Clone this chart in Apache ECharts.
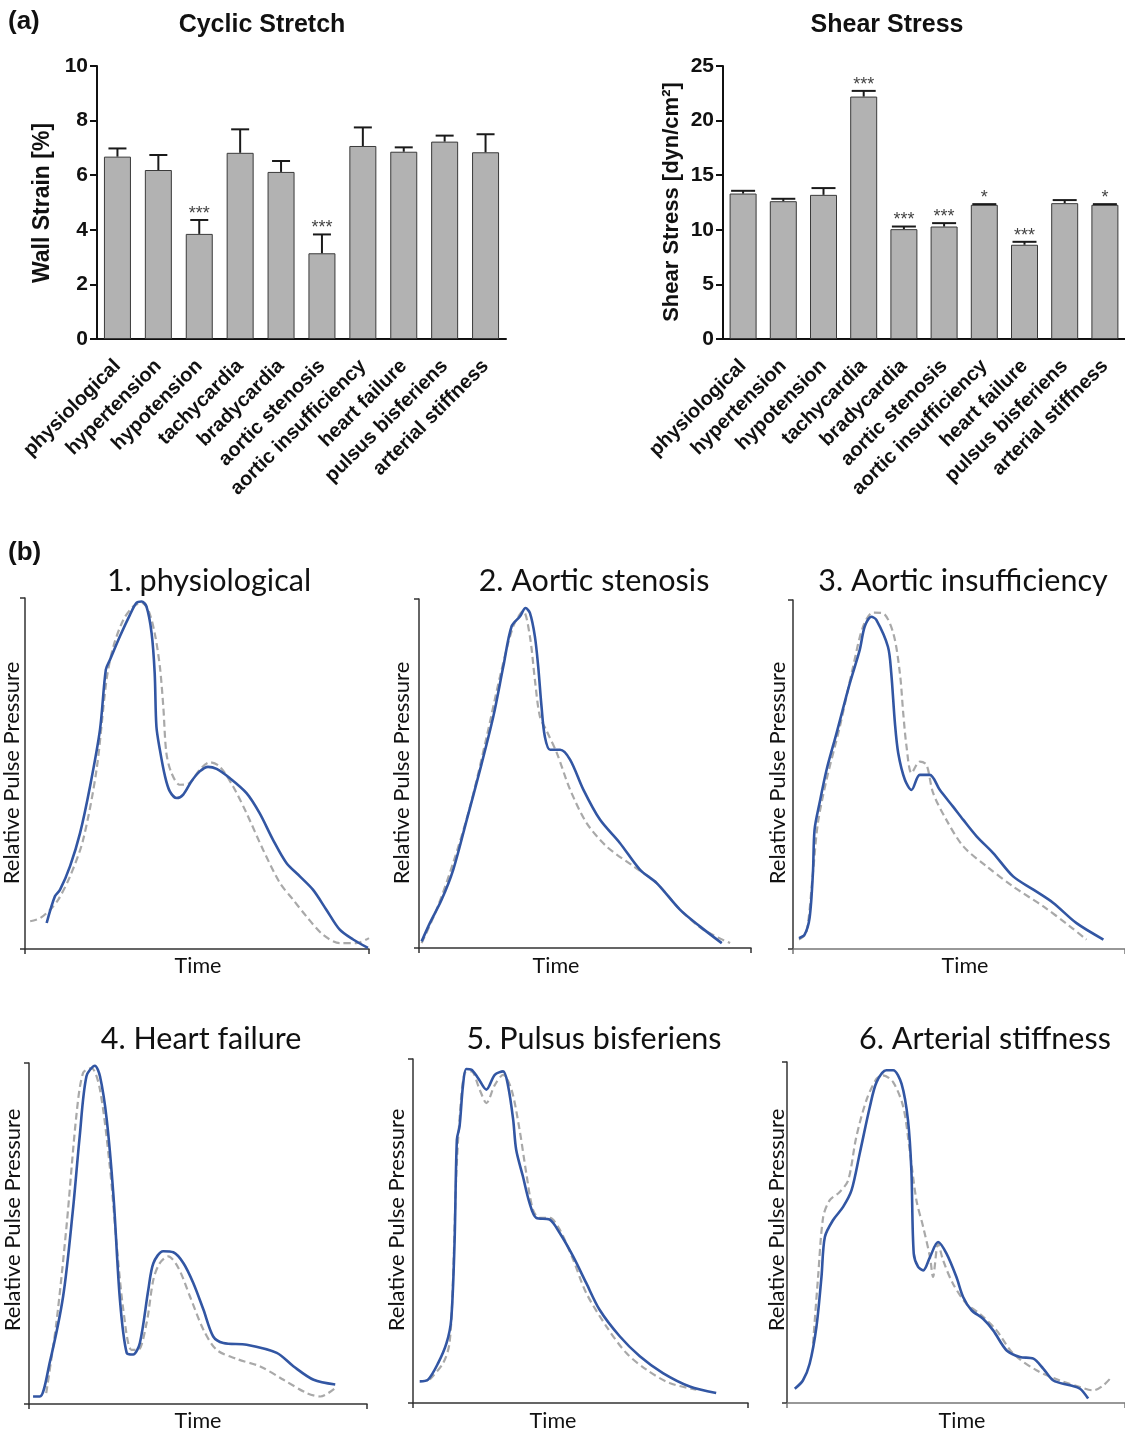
<!DOCTYPE html>
<html><head><meta charset="utf-8">
<script src="https://cdn.jsdelivr.net/npm/echarts@6/dist/echarts.min.js"></script>
<style>html,body{margin:0;padding:0;background:#fff}#c{width:1125px;height:1433px}</style>
</head><body><div id="c"></div>
<script>
// ---------- data ----------
const categories = ['physiological','hypertension','hypotension','tachycardia','bradycardia','aortic stenosis','aortic insufficiency','heart failure','pulsus bisferiens','arterial stiffness'];
const strainMean = [6.68, 6.19, 3.85, 6.82, 6.12, 3.14, 7.07, 6.86, 7.23, 6.84];
const strainUpper = [6.98, 6.74, 4.36, 7.68, 6.52, 3.83, 7.75, 7.02, 7.45, 7.50];
const strainSig = ['', '', '***', '', '', '***', '', '', '', ''];
const shearMean = [13.32, 12.62, 13.20, 22.20, 10.06, 10.30, 12.29, 8.63, 12.44, 12.29];
const shearUpper = [13.57, 12.84, 13.82, 22.72, 10.30, 10.61, 12.35, 8.90, 12.72, 12.35];
const shearSig = ['', '', '', '***', '***', '***', '*', '***', '', '*'];
const strainTicks = [0, 10, 2];
const shearTicks = [0, 25, 5];

const panelTitles = ['1. physiological','2. Aortic stenosis','3. Aortic insufficiency','4. Heart failure','5. Pulsus bisferiens','6. Arterial stiffness'];

const p1Blue = [[6.3,7.4],[8.7,15],[10.2,16.9],[13.1,23.6],[16,33],[18.9,46.3],[21.8,62.5],[23.5,79.6],[24.7,82.4],[27.6,89.1],[30.5,95.2],[32.4,98.6],[33.9,99],[35.3,97.6],[36.8,90],[37.7,78.6],[38.2,63.4],[39.2,56.8],[40.7,49.2],[42.1,44.9],[44.1,43],[46,44],[48.4,47.8],[50.8,50.6],[53.2,51.9],[55.7,51.3],[59.5,48.7],[64.4,44.4],[68.2,38.7],[72.1,31.1],[76,24.5],[79.9,20.7],[83.7,16.9],[87.6,11.2],[91.5,5.5],[95.4,2.7],[99.7,0.3]];
const p1Gray = [[1.5,7.9],[4.4,8.8],[7.3,11.2],[9.7,14.1],[13.1,20.7],[16.9,31.1],[20.8,51.1],[23.7,76.7],[25.7,86.2],[28.6,93.8],[31.5,97.6],[33.9,98.6],[35.8,96.7],[37.7,90],[39.2,80.5],[40.2,69.1],[41.1,55.8],[42.6,50.1],[45,46.8],[47.9,47.3],[50.8,51.1],[53.7,53.2],[56.6,52],[60.5,46.3],[64.4,38.7],[69.2,28.3],[74.1,18.8],[77.9,14.1],[81.8,9.3],[86.6,4.1],[91.5,1.7],[96.3,1.7],[100,3.1]];
const p2Blue = [[0.8,1.9],[3.3,7.2],[6.8,13.8],[10.3,22.4],[14.4,36.8],[18.4,51.1],[22.4,66.4],[25.4,80.7],[27.9,92.2],[30.4,95],[32.1,97.4],[33.4,96],[34.9,89.3],[35.9,80.7],[36.9,69.2],[37.9,60.6],[39.5,56.8],[42.5,56.8],[45.5,54],[49.5,45.4],[54.5,36.8],[60.5,30.1],[66.6,22.4],[71.6,18.6],[78.6,11],[84.6,6.2],[91.2,1.4]];
const p2Gray = [[0.8,1.4],[5.3,11],[10.3,24.4],[15.4,40.6],[20.4,60.6],[24.4,77.8],[28.4,92.2],[31.4,96.5],[33.4,89.3],[34.9,76.9],[36.4,66.4],[38.5,62.1],[41.5,55.9],[45.5,45.4],[50.5,35.8],[56.5,29.1],[64.6,23.4],[71.6,18.6],[78.6,11],[85.6,5.3],[93.7,1.4]];
const p3Blue = [[1.8,3.1],[3.5,4.1],[5,8.9],[6,21.8],[6.5,34.2],[8,41.8],[10.1,51.3],[13.1,61.8],[17.1,76.1],[20.1,85.7],[21.6,92.4],[23.6,95.2],[25.1,94.3],[28.6,86.6],[29.6,79],[30.7,64.7],[31.7,56.1],[33.7,48.5],[35.7,45.6],[38.2,49.9],[41.2,49.9],[44.2,45.6],[48.2,40.8],[51.3,37],[55.3,32.3],[60.3,27.5],[66.3,20.8],[72.4,17],[78.4,13.2],[85.4,7.4],[93.5,2.7]];
const p3Gray = [[1.8,2.7],[4,4.6],[6,21.8],[7.5,36.1],[10.1,48.5],[14.1,63.7],[18.1,80.9],[21.1,92.4],[24.1,96.4],[27.1,96.2],[30.2,90.5],[32.2,79],[33.2,67.6],[34.2,58],[35.7,50.4],[38.2,53.7],[40.2,52.8],[42.2,44.7],[46.2,37],[51.3,29.4],[58.3,23.7],[66.3,17.9],[75.4,12.2],[83.4,6.5],[88.4,2.7]];
const p4Blue = [[1.2,2.2],[3.2,2.2],[6.1,12],[10.1,31.6],[13,57],[15,78.5],[17,96.1],[19.5,99.2],[21,96.1],[23,83.4],[25,60.9],[26.9,30.6],[28.9,15],[30.8,14.5],[32.8,17.9],[35.3,33.5],[36.8,41.3],[39.7,44.8],[42.7,44.5],[45.7,41.3],[48.6,35.5],[51.6,27.7],[54.5,19.8],[57.5,17.9],[64.4,17.4],[73.3,15],[78.3,11],[84.2,7.1],[90.6,5.7]];
const p4Gray = [[5.1,3.2],[8.1,23.8],[11.1,52.1],[14,84.4],[16,97.1],[18.5,98.5],[21,92.2],[23.9,69.7],[25.9,47.2],[27.9,27.7],[30.3,15.9],[32.3,15.9],[34.8,23.8],[36.8,36.5],[38.7,41.3],[41.2,43.3],[44.2,39.9],[47.6,31.6],[51.6,21.8],[55.5,15.9],[61.5,13.2],[68.4,11],[75.3,7.1],[82.2,3.2],[86.2,2.2],[90.6,4.7]];
const p5Blue = [[2,6.3],[4.5,6.8],[7.5,11.6],[10,17.4],[11.4,24.2],[12.4,46.5],[13.1,76.6],[13.9,80.4],[14.9,92.1],[15.9,97.1],[17.4,96.9],[19.4,94.5],[21.9,91.1],[24.4,95.4],[26.9,96.4],[28.4,92.1],[29.9,82.4],[30.8,73.6],[32.8,65.9],[34.8,58.1],[36.8,53.8],[40.8,53.3],[43.8,49.4],[47.8,42.6],[51.7,34.9],[55.7,27.1],[61.7,19.4],[67.7,13.6],[74.6,8.7],[82.6,4.8],[90.5,2.9]];
const p5Gray = [[5,6.8],[9,11.6],[10.9,17.4],[11.9,34.9],[12.9,65.9],[13.9,82.6],[15.4,95.9],[17.4,96.4],[19.9,91.1],[21.9,87.2],[24.4,92.4],[26.9,95.4],[29.4,91.1],[31.8,79.5],[33.8,66.9],[35.8,56.2],[37.8,53.8],[40.8,53.8],[43.8,50.4],[47.8,41.7],[51.7,32],[57.7,22.3],[63.7,14.5],[69.7,9.7],[76.6,5.8],[84.6,3.9]];
const p6Blue = [[2.3,4.2],[4.7,6.6],[6.7,11.5],[8.7,22.3],[10.2,37],[11.2,48.7],[13.6,53.6],[16.6,57.5],[19.1,62.4],[21.5,73.1],[24.5,86.8],[26.5,94.1],[29.4,97.6],[31.4,97.6],[33.9,93.6],[35.8,82.9],[36.8,68.2],[37.5,43.8],[38.8,39.9],[40.3,38.9],[42.3,42.8],[44.7,47.2],[47.2,43.8],[50.1,37],[52.1,31.1],[54.6,27.2],[58,24.7],[61,21.3],[65,15.4],[68.9,13.5],[72.9,13],[75.8,10.1],[78.8,6.6],[83.7,5.2],[86.7,4.2],[89.1,1.3]];
const p6Gray = [[7.7,17.4],[9.2,37],[10.7,54.5],[12.6,59.4],[15.6,61.9],[18.1,65.3],[20.5,78],[23.5,88.8],[26.5,95.1],[28.4,96.1],[31.4,94.1],[34.4,86.8],[36.3,74.1],[38.3,59.4],[40.3,51.6],[42.3,42.8],[43.2,37],[44.7,46.7],[46.2,41.8],[49.1,35],[53.1,29.1],[57.1,26.1],[62,21.3],[66.9,14.5],[73.8,9.6],[80.8,6.6],[86.7,4.7],[90.6,3.7],[93.6,5.2],[96,7.6]];
const blueCurves = [p1Blue, p2Blue, p3Blue, p4Blue, p5Blue, p6Blue];
const grayCurves = [p1Gray, p2Gray, p3Gray, p4Gray, p5Gray, p6Gray];

// ---------- layout ----------
const panelBoxes = [
  {l:25, t:598, w:344, h:351, tx:209, ty:581, timeX:198, timeY:966, yx:12, yy:773},
  {l:419, t:599, w:332, h:349, tx:594, ty:581, timeX:556, timeY:966, yx:402, yy:773},
  {l:793, t:600, w:332, h:349, tx:963, ty:581, timeX:965, timeY:966, yx:778, yy:773},
  {l:29, t:1063, w:338, h:341, tx:201, ty:1039, timeX:198, timeY:1421, yx:13, yy:1220},
  {l:413, t:1059, w:335, h:344, tx:594, ty:1039, timeX:553, timeY:1421, yx:397, yy:1220},
  {l:787, t:1062, w:338, h:341, tx:985, ty:1039, timeX:962, timeY:1421, yx:777, yy:1220}
];
const barFont = '"Liberation Sans", Arial, sans-serif';
const curveFont = 'Lato, "Open Sans", sans-serif';

const grids = [
  {left:97, top:66, width:409, height:273},
  {left:723, top:66, width:408, height:273}
];
panelBoxes.forEach(b => grids.push({left:b.l, top:b.t, width:b.w, height:b.h}));

const xAxes = [], yAxes = [], series = [];
function barAxes(gi, ticks) {
  xAxes.push({gridIndex:gi, type:'category', data:categories,
    axisLine:{lineStyle:{color:'#111', width:2}},
    axisTick:{alignWithLabel:true, length:7, lineStyle:{color:'#111', width:2}},
    axisLabel:{interval:0, rotate:45, fontFamily:barFont, fontWeight:700, fontSize:20, color:'#111', margin:24}});
  yAxes.push({gridIndex:gi, type:'value', min:ticks[0], max:ticks[1], interval:ticks[2],
    axisLine:{show:true, lineStyle:{color:'#111', width:2}},
    axisTick:{show:true, length:7, lineStyle:{color:'#111', width:2}},
    axisLabel:{fontFamily:barFont, fontWeight:700, fontSize:21, color:'#111', margin:9},
    splitLine:{show:false}});
}
barAxes(0, strainTicks);
barAxes(1, shearTicks);

function barSeries(gi, mean, upper, sig, capW) {
  series.push({type:'bar', xAxisIndex:gi, yAxisIndex:gi, data:mean, barWidth:27,
    itemStyle:{color:'#b2b2b2', borderColor:'#3a3a3a', borderWidth:1}, silent:true});
  series.push({type:'custom', xAxisIndex:gi, yAxisIndex:gi, z:5,
    data: mean.map((m, i) => [i, m, upper[i]]),
    renderItem: (params, api) => {
      const i = api.value(0);
      const base = api.coord([i, api.value(1)]);
      const top = api.coord([i, api.value(2)]);
      const h = capW / 2;
      const st = {stroke:'#1a1a1a', lineWidth:2};
      const children = [
        {type:'line', shape:{x1:base[0], y1:base[1], x2:top[0], y2:top[1]}, style:st},
        {type:'line', shape:{x1:top[0]-h, y1:top[1], x2:top[0]+h, y2:top[1]}, style:st}
      ];
      const s = sig[params.dataIndex];
      if (s) children.push({type:'text', x:top[0], y:top[1]-6,
        style:{text:s, textAlign:'center', textVerticalAlign:'middle', font:'18px ' + barFont, fill:'#444'}});
      return {type:'group', children};
    }});
}
barSeries(0, strainMean, strainUpper, strainSig, 18);
barSeries(1, shearMean, shearUpper, shearSig, 24);

panelBoxes.forEach((b, k) => {
  const gi = k + 2;
  const axCol = (k === 2 || k === 5) ? '#777' : '#333';
  xAxes.push({gridIndex:gi, type:'value', min:0, max:100, interval:100,
    axisLine:{lineStyle:{color:axCol, width:1.5}},
    axisTick:{show:true, length:5, lineStyle:{color:axCol, width:1.5}},
    axisLabel:{show:false}, splitLine:{show:false}});
  yAxes.push({gridIndex:gi, type:'value', min:0, max:100, interval:100,
    axisLine:{show:true, lineStyle:{color:'#333', width:1.5}},
    axisTick:{show:true, length:5, lineStyle:{color:'#333', width:1.5}},
    axisLabel:{show:false}, splitLine:{show:false}});
  series.push({type:'line', xAxisIndex:gi, yAxisIndex:gi, data:grayCurves[k], showSymbol:false, smooth:0.3,
    lineStyle:{color:'#a9a9a9', width:2.2, type:[7,4]}, z:2});
  series.push({type:'line', xAxisIndex:gi, yAxisIndex:gi, data:blueCurves[k], showSymbol:false, smooth:0.3,
    lineStyle:{color:'#3256a3', width:2.6}, z:3});
});

// ---------- text ----------
const graphics = [
  {type:'text', x:8, y:22, style:{text:'(a)', font:'bold 26px ' + barFont, fill:'#111', textVerticalAlign:'middle'}},
  {type:'text', x:262, y:25, style:{text:'Cyclic Stretch', font:'bold 25px ' + barFont, fill:'#111', textAlign:'center', textVerticalAlign:'middle'}},
  {type:'text', x:887, y:25, style:{text:'Shear Stress', font:'bold 25px ' + barFont, fill:'#111', textAlign:'center', textVerticalAlign:'middle'}},
  {type:'text', x:43, y:203, rotation:Math.PI/2, style:{text:'Wall Strain [%]', font:'bold 23px ' + barFont, fill:'#111', textAlign:'center', textVerticalAlign:'middle'}},
  {type:'text', x:672, y:202, rotation:Math.PI/2, style:{text:'Shear Stress [dyn/cm²]', font:'bold 22px ' + barFont, fill:'#111', textAlign:'center', textVerticalAlign:'middle'}},
  {type:'text', x:8, y:553, style:{text:'(b)', font:'bold 26px ' + barFont, fill:'#111', textVerticalAlign:'middle'}}
];
panelBoxes.forEach((b, k) => {
  graphics.push({type:'text', x:b.tx, y:b.ty, style:{text:panelTitles[k], font:'30.5px ' + curveFont, fill:'#111', textAlign:'center', textVerticalAlign:'middle'}});
  graphics.push({type:'text', x:b.timeX, y:b.timeY, style:{text:'Time', font:'21.5px ' + curveFont, fill:'#111', textAlign:'center', textVerticalAlign:'middle'}});
  graphics.push({type:'text', x:b.yx, y:b.yy, rotation:Math.PI/2, style:{text:'Relative Pulse Pressure', font:'22px ' + curveFont, fill:'#111', textAlign:'center', textVerticalAlign:'middle'}});
});

const chart = echarts.init(document.getElementById('c'), null, {renderer:'canvas'});
chart.setOption({
  animation:false, backgroundColor:'#fff',
  grid:grids, xAxis:xAxes, yAxis:yAxes, series:series, graphic:graphics
});
</script></body></html>
